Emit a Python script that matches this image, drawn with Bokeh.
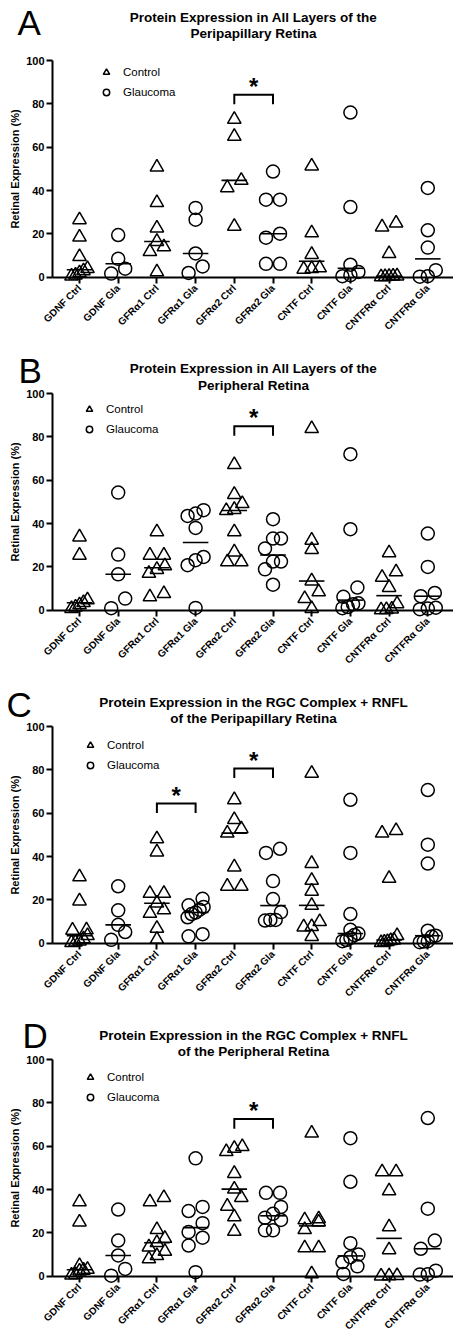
import math
import numpy as np
from bokeh.plotting import figure
from bokeh.layouts import column
from bokeh.models import Range1d, FixedTicker, Legend, LegendItem, ColumnDataSource
from bokeh.embed import file_html
from bokeh.resources import INLINE
from bokeh.core.properties import value

# ---------------- data ----------------
categories = ["GDNF Ctrl", "GDNF Gla", "GFRα1 Ctrl", "GFRα1 Gla", "GFRα2 Ctrl",
              "GFRα2 Gla", "CNTF Ctrl", "CNTF Gla", "CNTFRα Ctrl", "CNTFRα Gla"]
y_ticks = [0, 20, 40, 60, 80, 100]
y_axis_label = "Retinal Expression (%)"
legend_labels = ["Control", "Glaucoma"]
panel_letters = ["A", "B", "C", "D"]
panel_titles = [
    ["Protein Expression in All Layers of the", "Peripapillary Retina"],
    ["Protein Expression in All Layers of the", "Peripheral Retina"],
    ["Protein Expression in the RGC Complex + RNFL", "of the Peripapillary Retina"],
    ["Protein Expression in the RGC Complex + RNFL", "of the Peripheral Retina"],
]

A_values = [
    [26.5, 18.5, 9.5, 4.0, 3.0, 2.0, 1.0, 0.5],
    [19.5, 8.5, 4.0, 1.7],
    [50.8, 34.4, 22.7, 16.5, 14.0, 11.8, 2.5],
    [32.0, 26.6, 11.0, 5.0, 2.0],
    [72.8, 65.0, 44.7, 41.3, 23.5],
    [48.8, 35.8, 35.8, 20.1, 18.3, 6.2, 6.2],
    [51.3, 20.5, 10.5, 4.3, 4.0, 3.7],
    [76.0, 32.4, 5.8, 2.5, 1.0, 0.5],
    [25.0, 23.2, 10.9, 0.6, 0.5, 0.4, 0.3, 0.2],
    [41.2, 21.7, 13.7, 3.3, 0.5, 0.3],
]
B_values = [
    [33.8, 25.4, 4.8, 3.5, 2.5, 1.5, 0.8],
    [54.3, 25.7, 16.6, 5.4, 1.0],
    [36.2, 25.4, 25.4, 20.5, 18.8, 17.0, 7.7, 6.2],
    [46.2, 44.6, 43.5, 38.0, 24.6, 23.1, 20.8, 1.1],
    [67.2, 53.4, 49.2, 46.5, 46.0, 36.2, 26.9, 22.3, 22.3],
    [42.0, 33.1, 33.1, 28.5, 22.5, 22.5, 18.9, 11.8],
    [83.8, 32.3, 28.0, 13.5, 8.5, 5.4, 0.8],
    [72.0, 37.4, 10.5, 6.2, 3.2, 2.8, 1.5, 1.0],
    [26.5, 17.7, 15.2, 10.5, 3.0, 0.5, 0.3, 0.2],
    [35.4, 20.0, 8.0, 6.5, 1.2, 0.8, 0.5],
]
C_values = [
    [30.6, 19.5, 6.2, 6.0, 3.5, 2.0, 1.0, 0.5, 0.3],
    [26.3, 15.2, 8.5, 5.2, 1.6],
    [48.2, 42.1, 23.0, 23.0, 18.5, 15.4, 13.8, 6.9, 1.8],
    [20.5, 17.5, 16.8, 15.5, 14.2, 13.5, 12.0, 4.2, 3.2],
    [66.2, 57.0, 52.8, 50.8, 35.2, 26.3, 26.3],
    [43.6, 41.7, 28.7, 20.4, 14.4, 10.8, 10.8, 10.5],
    [78.4, 36.8, 29.0, 24.0, 17.5, 10.0, 7.7, 7.5, 3.1],
    [66.2, 41.7, 13.5, 6.2, 4.5, 3.8, 2.5, 1.5, 1.0],
    [52.0, 50.8, 29.9, 3.5, 1.5, 1.2, 0.8, 0.5, 0.3],
    [70.7, 45.5, 36.8, 5.8, 3.5, 3.1, 1.0, 0.8, 0.5],
]
D_values = [
    [34.3, 25.0, 4.9, 3.2, 2.8, 2.4, 0.8, 0.5],
    [30.8, 16.5, 9.6, 3.4, 0.3],
    [36.3, 34.3, 21.5, 17.5, 15.5, 13.5, 11.5, 9.5, 8.0],
    [54.4, 32.0, 30.1, 24.5, 20.4, 17.8, 14.2, 1.9],
    [59.8, 59.0, 57.5, 47.4, 40.2, 36.3, 32.3, 27.4, 20.7],
    [38.5, 38.5, 32.0, 28.8, 27.0, 26.0, 21.2, 21.2],
    [66.0, 26.5, 26.0, 25.0, 21.5, 13.1, 13.1, 1.1],
    [63.7, 43.6, 15.3, 10.0, 8.8, 6.5, 4.6, 1.1],
    [48.2, 48.2, 39.4, 22.8, 12.2, 0.3, 0.2, 0.1],
    [73.0, 31.2, 16.5, 12.7, 2.6, 1.0, 0.8],
]
# significance brackets: (group a, group b, bracket height in %)
A_signif = [(4, 5, 84.2)]
B_signif = [(4, 5, 84.9)]
C_signif = [(2, 3, 64.5), (4, 5, 80.6)]
D_signif = [(4, 5, 72.5)]

all_values = [A_values, B_values, C_values, D_values]
all_signif = [A_signif, B_signif, C_signif, D_signif]

# ---------------- layout constants (pixels) ----------------
FONT = "Liberation Sans"
W = 453
heights = [338, 333, 333, 333]
top_100 = [60, 55, 55, 55]          # px from panel top to the 100 line
PX_PER_Y = 2.168
PX_PER_X = 38.7
CAT0_PX = 79                         # x pixel of first category
YAXIS_PX = 52                        # x pixel of the y axis
TEXT_SHIFT = 0.36                    # em: renderer baseline correction
LETTER_FS, TITLE_FS, STAR_FS = 35, 13.5, 24
letter_pos = [(17, 35), (18, 45), (6, 45.5), (22, 44)]        # (left x, baseline y)
title_pos = [(253, 22, 38.3), (253, 35, 52), (253, 35.7, 51.7), (253, 36, 52)]
legend_pos = [(98, 61.7), (81, 61), (82, 64), (82, 62.7)]     # (left x, top y)


def row_offsets(vals, row_px, max_half=8.0, pair_gap=14.0):
    """Prism-like horizontal scatter: points of similar height share a row."""
    vals = np.asarray(vals, dtype=float)
    order = np.argsort(vals, kind="stable")
    offs = np.zeros(len(vals))
    rows, cur = [], []
    for i in order:
        if cur and (vals[i] - vals[cur[0]]) * PX_PER_Y >= row_px:
            rows.append(cur)
            cur = []
        cur.append(i)
    if cur:
        rows.append(cur)
    for r in rows:
        n = len(r)
        if n == 1:
            continue
        s = min(pair_gap, 2 * max_half / (n - 1))
        for j, i in enumerate(r):
            offs[i] = (j - (n - 1) / 2) * s
    return offs / PX_PER_X


def make_panel(k):
    vals = all_values[k]
    H = heights[k]
    zero_px = top_100[k] + 100 * PX_PER_Y

    def xs(px):
        return (px - CAT0_PX) / PX_PER_X

    def ys(py):
        return (zero_px - py) / PX_PER_Y

    p = figure(width=W, height=H, output_backend="svg", toolbar_location=None,
               x_range=Range1d(xs(0), xs(W)), y_range=Range1d(ys(H), ys(0)),
               min_border_left=0, min_border_right=0, min_border_top=0, min_border_bottom=0)
    p.outline_line_color = None
    p.xgrid.visible = False
    p.ygrid.visible = False
    p.background_fill_color = "white"
    p.border_fill_color = "white"

    tri = {"x": [], "y": []}
    cir = {"x": [], "y": []}
    med = {"x0": [], "x1": [], "y": []}
    for g, v in enumerate(vals):
        is_ctrl = (g % 2 == 0)
        offs = row_offsets(v, 9.0 if is_ctrl else 11.0)
        d = tri if is_ctrl else cir
        d["x"].extend(list(g + offs))
        d["y"].extend(v)
        m = float(np.median(v))
        med["x0"].append(g - 0.33)
        med["x1"].append(g + 0.33)
        med["y"].append(m)

    p.segment(x0="x0", x1="x1", y0="y", y1="y", source=ColumnDataSource(med),
              line_color="black", line_width=1.6)
    r_tri = p.scatter(x="x", y="y", source=ColumnDataSource(tri), marker="triangle",
                      size=13.5, fill_alpha=0, line_color="black", line_width=1.5)
    r_cir = p.scatter(x="x", y="y", source=ColumnDataSource(cir), marker="circle",
                      size=13, fill_alpha=0, line_color="black", line_width=1.5)

    for (a, b, h) in all_signif[k]:
        p.line(x=[a, a, b, b], y=[h - 4.4, h, h, h - 4.4], line_color="black",
               line_width=2, line_join="miter")
        p.text(x=[(a + b) / 2], y=[h + 3.8], text=["*"], text_align="center",
               text_baseline="alphabetic", text_font=value(FONT),
               text_font_style="bold", text_font_size=f"{STAR_FS}px", text_color="black")

    # x axis at y = 0
    xa = p.xaxis[0]
    xa.fixed_location = 0
    xa.bounds = (xs(YAXIS_PX), xs(W))
    xa.ticker = FixedTicker(ticks=list(range(len(categories))))
    xa.major_label_overrides = {i: c for i, c in enumerate(categories)}
    xa.major_label_orientation = math.pi / 4
    xa.axis_line_width = 2
    xa.major_tick_in = 0
    xa.major_tick_out = 6
    xa.major_tick_line_width = 2
    xa.minor_tick_line_color = None
    xa.major_label_standoff = 3
    xa.major_label_text_font = FONT
    xa.major_label_text_font_style = "bold"
    xa.major_label_text_font_size = "10px"
    xa.major_label_text_color = "black"

    # y axis at the left edge of the data area
    ya = p.yaxis[0]
    ya.fixed_location = xs(YAXIS_PX)
    ya.bounds = (0, 100)
    ya.ticker = FixedTicker(ticks=y_ticks)
    ya.axis_line_width = 2
    ya.major_tick_line_width = 2
    ya.major_tick_out = 6
    ya.major_tick_in = 0
    ya.minor_tick_line_color = None
    ya.major_label_standoff = 2
    ya.major_label_text_font = FONT
    ya.major_label_text_font_style = "bold"
    ya.major_label_text_font_size = "11px"
    ya.major_label_text_color = "black"
    ya.axis_label = y_axis_label
    ya.axis_label_text_font = FONT
    ya.axis_label_text_font_style = "bold"
    ya.axis_label_text_font_size = "11px"
    ya.axis_label_text_color = "black"
    ya.axis_label_standoff = 2

    # legend
    lx, lt = legend_pos[k]
    leg = Legend(items=[LegendItem(label=legend_labels[0], renderers=[r_tri]),
                        LegendItem(label=legend_labels[1], renderers=[r_cir])],
                 location=(lx, H - lt - 40),
                 orientation="vertical", padding=0, spacing=0, margin=0,
                 glyph_width=16, glyph_height=20, label_height=20, label_standoff=9,
                 border_line_color=None, background_fill_alpha=0,
                 label_text_font=FONT, label_text_font_size="11.5px",
                 label_text_color="black")
    p.add_layout(leg)

    # panel letter and title
    px_, pb = letter_pos[k]
    p.text(x=[xs(px_)], y=[ys(pb - TEXT_SHIFT * LETTER_FS)], text=[panel_letters[k]],
           text_align="left", text_baseline="alphabetic", text_font=value(FONT),
           text_font_size=f"{LETTER_FS}px", text_color="black")
    tx, tb1, tb2 = title_pos[k]
    p.text(x=[xs(tx), xs(tx)],
           y=[ys(tb1 - TEXT_SHIFT * TITLE_FS), ys(tb2 - TEXT_SHIFT * TITLE_FS)],
           text=panel_titles[k], text_align="center", text_baseline="alphabetic",
           text_font=value(FONT), text_font_style="bold",
           text_font_size=f"{TITLE_FS}px", text_color="black")
    return p


figs = [make_panel(k) for k in range(4)]
layout = column(*figs, spacing=0)
open("out.html", "w").write(file_html(layout, INLINE))
